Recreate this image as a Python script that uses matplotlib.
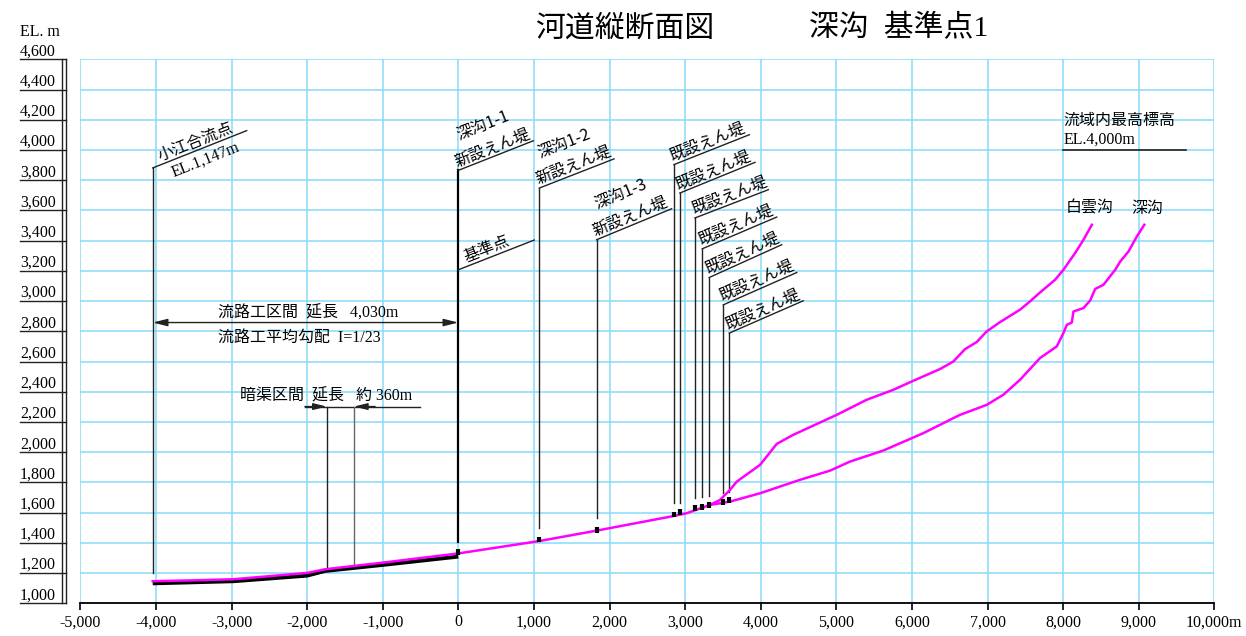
import numpy as np
import matplotlib
matplotlib.use('Agg')
import matplotlib.pyplot as plt
from matplotlib.transforms import offset_copy

JP = ['Noto Sans CJK JP', 'DejaVu Sans']
SERIF = ['Liberation Serif', 'Noto Sans CJK JP']
plt.rcParams['font.family'] = SERIF

# ---- data (distance m, elevation m) ----
fuka_x = [-4042, -3500, -2976, -2001, -1763, -1000, 0, 1072, 1830, 2852, 3021, 3329,
          3593, 3991, 4519, 4917, 5182, 5622, 6151, 6636, 6989, 7209, 7430, 7695, 7916,
          8004, 8049, 8115, 8137, 8270, 8358, 8424, 8534, 8689, 8756, 8866, 8976, 9074]
fuka_y = [1146, 1152, 1159, 1201, 1225, 1269, 1330, 1412, 1481, 1578, 1596, 1651,
          1673, 1728, 1817, 1878, 1938, 2011, 2126, 2247, 2313, 2380, 2479, 2623, 2700,
          2788, 2843, 2858, 2931, 2954, 3004, 3080, 3108, 3207, 3262, 3329, 3428, 3505]

hakuun_x = [3329, 3461, 3593, 3683, 3991, 4079, 4212, 4431, 5005, 5402, 5755, 5998, 6371,
            6548, 6703, 6857, 6989, 7166, 7430, 7563, 7695, 7894, 8004, 8159, 8270, 8380]
hakuun_y = [1651, 1684, 1750, 1805, 1916, 1971, 2055, 2115, 2247, 2347, 2413, 2468, 2550,
            2600, 2682, 2729, 2799, 2861, 2943, 2998, 3057, 3141, 3207, 3318, 3406, 3505]

bed_x = [-4042, -2976, -2001, -1763, -1000, 0]
bed_y = [1132, 1146, 1183, 1214, 1254, 1309]

# dams: position, marker bottom/top
new_dam_x = [0, 1072, 1830]
new_dam_lo = [1320, 1405, 1464]
new_dam_hi = [1360, 1440, 1507]
old_dam_x = [2852, 2931, 3130, 3227, 3319, 3505, 3584]
old_dam_lo = [1574, 1585, 1611, 1618, 1629, 1651, 1662]
old_dam_hi = [1607, 1622, 1651, 1658, 1669, 1691, 1702]

# leader lines for existing dams
old_lead_bot = [1662, 1662, 1695, 1702, 1711, 1732, 1739]
old_lead_top = [3903, 3715, 3550, 3346, 3156, 2975, 2788]
old_lead_ex = [3850, 3925, 4101, 4212, 4278, 4477, 4563]
old_lead_ey = [4101, 3918, 3737, 3556, 3373, 3189, 3002]

x_ticks = list(range(-5000, 10001, 1000))
x_labels = [f'{v:,}' for v in x_ticks[:-1]] + ['10,000m']
y_ticks = list(range(1000, 4601, 200))

GRID = '#86dbfa'
LEAD = '#222222'
FS = 11.5

fig = plt.figure(figsize=(12.46, 6.36), dpi=100)
ax = fig.add_axes([80.3 / 1246, (636 - 603.3) / 636, 1134 / 1246, 544 / 636])
ax.set_xlim(-5000, 10000)
ax.set_ylim(1000, 4600)
ax.set_xticks(x_ticks)
ax.set_xticklabels(x_labels, fontsize=FS)
ax.set_yticks(y_ticks)
ax.tick_params(axis='y', length=0, labelleft=False)
ax.tick_params(axis='x', length=5, width=1.2, direction='out', pad=3)
ax.grid(True, color=GRID, lw=1.1)
ax.set_axisbelow(True)
for s in ['top', 'right', 'left']:
    ax.spines[s].set_visible(False)
ax.spines['bottom'].set_linewidth(1.3)

# custom y scale at the left
yt = ax.get_yaxis_transform()
yt_lab = offset_copy(yt, fig=fig, y=4, units='dots')
for v in y_ticks:
    ax.plot([-0.0532, -0.0128], [v, v], transform=yt, color=LEAD, lw=1.0, clip_on=False)
    ax.text(-0.0532, v, f'{v:,}', transform=yt_lab, fontsize=FS, ha='left', va='baseline')
for xa in [-0.0161, -0.0130]:
    ax.plot([xa, xa], [1000, 4600], transform=yt, color=LEAD, lw=1.0, clip_on=False)
fig.text(20 / 1246, 1 - 36 / 636, 'EL. m', fontsize=FS, ha='left', va='baseline')

# title
fig.text(535 / 1246, 1 - 28.5 / 636, '河道縦断面図', fontsize=21.5, ha='left', va='center')
fig.text(809 / 1246, 1 - 28.5 / 636, '深沟  基準点1', fontsize=21.5, ha='left', va='center')

# profile lines
ax.plot(bed_x, bed_y, color='black', lw=2.8, solid_capstyle='butt', zorder=3)
ax.plot(fuka_x, fuka_y, color='#ff00ff', lw=1.8, zorder=4)
ax.plot(hakuun_x, hakuun_y, color='#ff00ff', lw=1.8, zorder=4)

# dam markers
for x, lo, hi in zip(new_dam_x + old_dam_x, new_dam_lo + old_dam_lo, new_dam_hi + old_dam_hi):
    ax.plot([x, x], [lo, hi], color='black', lw=3.0, solid_capstyle='butt', zorder=5)


def slanted(x0, y0, x1, y1, lines, lw=1.0):
    ax.plot([x0, x1], [y0, y1], color=LEAD, lw=lw, zorder=5)
    p0 = ax.transData.transform((x0, y0))
    p1 = ax.transData.transform((x1, y1))
    d = p1 - p0
    ang = np.degrees(np.arctan2(d[1], d[0]))
    u = d / np.hypot(d[0], d[1])
    n = np.array([-u[1], u[0]])
    for txt, along, perp, va, fam in lines:
        off = (u * along + n * perp) * 72 / fig.dpi
        ax.annotate(txt, (x0, y0), xytext=off, textcoords='offset points',
                    rotation=ang, rotation_mode='anchor', ha='left', va=va,
                    family=fam, fontsize=FS, zorder=6)


# 小江合流点
ax.plot([-4042, -4042], [1199, 3881], color=LEAD, lw=1.0)
slanted(-4042, 3881, -2799, 4128,
        [('小江合流点', 9, 4, 'baseline', JP), ('EL.1,147m', 16, -4, 'top', SERIF)])

# 深沟1-1 / 基準点
ax.plot([0, 0], [1408, 3865], color='black', lw=1.6)
slanted(0, 3865, 993, 4061,
        [('新設えん堤', 0, 4, 'baseline', JP), ('深沟1-1', 12, 28, 'baseline', JP)])
slanted(0, 3207, 1005, 3404, [('基準点', 10, 4, 'baseline', JP)])

# 深沟1-2, 1-3
ax.plot([1072, 1072], [1497, 3748], color=LEAD, lw=1.0)
slanted(1072, 3748, 2060, 3941,
        [('新設えん堤', 0, 4, 'baseline', JP), ('深沟1-2', 12, 28, 'baseline', JP)])
ax.plot([1830, 1830], [1563, 3406], color=LEAD, lw=1.0)
slanted(1830, 3406, 2822, 3611,
        [('新設えん堤', 0, 4, 'baseline', JP), ('深沟1-3', 12, 28, 'baseline', JP)])

# existing dams
for x, b, t, ex, ey in zip(old_dam_x, old_lead_bot, old_lead_top, old_lead_ex, old_lead_ey):
    ax.plot([x, x], [b, t], color=LEAD, lw=1.0)
    slanted(x, t, ex, ey, [('既設えん堤', 0, 4, 'baseline', JP)])

# 流路工区間
ax.annotate('', xy=(0, 2858), xytext=(-4042, 2858),
            arrowprops=dict(arrowstyle='<|-|>,head_length=0.8,head_width=0.2',
                            color=LEAD, lw=1.0, shrinkA=0, shrinkB=0, mutation_scale=11))
ax.text(-3179, 2921, '流路工区間  延長   4,030m', fontsize=FS, ha='left', va='center')
ax.text(-3179, 2759, '流路工平均勾配  I=1/23', fontsize=FS, ha='left', va='center')

# 暗渠区間
ax.plot([-2029, -508], [2302, 2302], color=LEAD, lw=1.0)
ax.annotate('', xy=(-1741, 2302), xytext=(-2029, 2302),
            arrowprops=dict(arrowstyle='-|>,head_length=0.8,head_width=0.2',
                            color=LEAD, lw=1.0, shrinkA=0, shrinkB=0, mutation_scale=10))
ax.annotate('', xy=(-1379, 2302), xytext=(-1100, 2302),
            arrowprops=dict(arrowstyle='-|>,head_length=0.8,head_width=0.2',
                            color=LEAD, lw=1.0, shrinkA=0, shrinkB=0, mutation_scale=10))
ax.plot([-1741, -1741], [1232, 2302], color=LEAD, lw=1.0)
ax.plot([-1379, -1379], [1249, 2302], color='#666666', lw=1.0)
ax.text(-2887, 2368, '暗渠区間  延長   約 360m', fontsize=FS, ha='left', va='center')

# 流域内最高標高
ax.text(8003, 4196, '流域内最高標高', family=JP, fontsize=FS, ha='left', va='center')
ax.text(8000, 4068, 'EL.4,000m', fontsize=FS, ha='left', va='center')
ax.plot([8000, 9631], [4002, 4002], color=LEAD, lw=1.2)

ax.text(8030, 3616, '白雲沟', family=JP, fontsize=FS, ha='left', va='center')
ax.text(8907, 3616, '深沟', family=JP, fontsize=FS, ha='left', va='center')

fig.savefig('out.png', dpi=100)
